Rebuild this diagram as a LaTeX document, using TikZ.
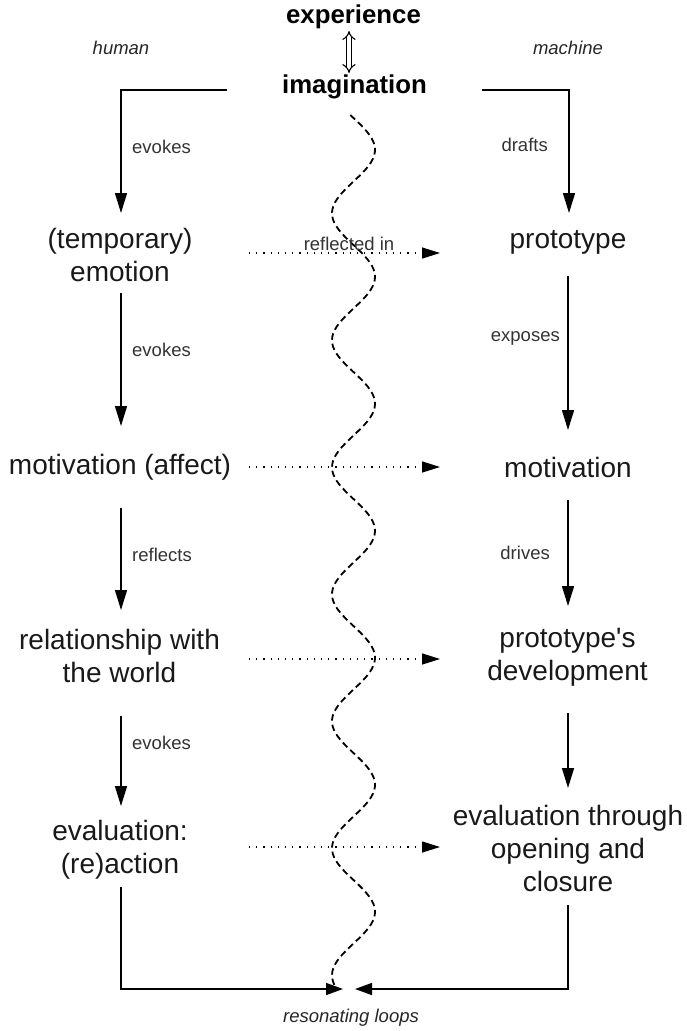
\documentclass[tikz,border=0pt]{standalone}
\usepackage{fontspec}
\setmainfont{Liberation Sans}
\usetikzlibrary{arrows.meta}
\begin{document}
\begin{tikzpicture}[x=1pt,y=-1pt,
  mainnode/.style={font=\fontsize{28}{33}\selectfont, align=center, inner sep=0pt, text=black!90},
  topnode/.style={font=\fontsize{25.8}{30}\selectfont\bfseries, inner sep=0pt},
  lab/.style={font=\fontsize{18.5}{22}\selectfont, inner sep=0pt, text=black!80},
  side/.style={font=\fontsize{18.5}{22}\selectfont\itshape, inner sep=0pt, text=black!85},
  arr/.style={line width=1.5pt, -{Triangle[length=20pt,width=12pt]}},
  botarr/.style={line width=1.5pt, -{Triangle[length=17pt,width=12pt]}},
  dotarr/.style={line width=1.2pt, dash pattern=on 1.2pt off 6pt, -{Triangle[length=18pt,width=11pt]}},
  wave/.style={line width=1.8pt, dash pattern=on 6.5pt off 4pt},
  dblarr/.style={double distance=3.5pt, line width=1.1pt, {Implies[scale=1.4]}-{Implies[scale=1.4]}},
]
\useasboundingbox (0,0) rectangle (686,1031);

% top
\node[topnode] (exp) at (353.5,17) {experience};
\node[topnode] (imag) at (354.5,87) {imagination};
\coordinate (da1) at (349,31);
\coordinate (da2) at (349,73);
\draw[dblarr] (da1) -- (da2);

\node[side] (human) at (121,48) {human};
\node[side] (machine) at (568,48) {machine};

% left column nodes
\node[mainnode] (tempemo) at (120,255) {(temporary)\\emotion};
\node[mainnode] (motaff) at (120,467) {motivation (affect)};
\node[mainnode] (relat) at (119.5,656) {relationship with\\the world};
\node[mainnode] (evalh) at (120,850) {evaluation:\\(re)action};

% right column nodes
\node[mainnode] (proto) at (568,242) {prototype};
\node[mainnode] (motm) at (568,467) {motivation};
\node[mainnode] (protodev) at (567.5,657) {prototype\textquotesingle s\\development};
\node[mainnode] (evalm) at (568,848) {evaluation through\\opening and\\closure};

% wave
\draw[wave] plot[domain=115:985, samples=260, smooth] ({353.5+21.5*sin(2.8346*(\x-118))}, {\x});

% top connectors
\coordinate (il) at (227,90);
\coordinate (ilc) at (121,90);
\coordinate (ile) at (121,213);
\draw[arr] (il) -- (ilc) -- (ile);
\coordinate (ir) at (482,90);
\coordinate (irc) at (569,90);
\coordinate (ire) at (569,213);
\draw[arr] (ir) -- (irc) -- (ire);
\node[lab, anchor=west] (lev1) at (132,147) {evokes};
\node[lab, anchor=east] (ldr) at (548,145) {drafts};

% left column arrows
\coordinate (l1s) at (121,293); \coordinate (l1e) at (121,426);
\draw[arr] (l1s) -- (l1e);
\node[lab, anchor=west] (lev2) at (132,350) {evokes};
\coordinate (l2s) at (121,508); \coordinate (l2e) at (121,610);
\draw[arr] (l2s) -- (l2e);
\node[lab, anchor=west] (lref) at (132,555) {reflects};
\coordinate (l3s) at (121,716); \coordinate (l3e) at (121,806);
\draw[arr] (l3s) -- (l3e);
\node[lab, anchor=west] (lev3) at (132,743) {evokes};

% right column arrows
\coordinate (r1s) at (568,276); \coordinate (r1e) at (568,430);
\draw[arr] (r1s) -- (r1e);
\node[lab, anchor=east] (lexp) at (560,338) {exposes};
\coordinate (r2s) at (568,500); \coordinate (r2e) at (568,606);
\draw[arr] (r2s) -- (r2e);
\node[lab, anchor=east] (ldrv) at (550,553) {drives};
\coordinate (r3s) at (568,713); \coordinate (r3e) at (568,788);
\draw[arr] (r3s) -- (r3e);

% dotted connectors
\coordinate (d1s) at (249,253); \coordinate (d1e) at (440,253);
\draw[dotarr] (d1s) -- (d1e);
\node[lab] (lrefin) at (349,244) {reflected in};
\coordinate (d2s) at (249,467); \coordinate (d2e) at (440,467);
\draw[dotarr] (d2s) -- (d2e);
\coordinate (d3s) at (249,659); \coordinate (d3e) at (440,659);
\draw[dotarr] (d3s) -- (d3e);
\coordinate (d4s) at (249,847); \coordinate (d4e) at (440,847);
\draw[dotarr] (d4s) -- (d4e);

% bottom loops
\coordinate (bl1) at (121,887); \coordinate (blc) at (121,989); \coordinate (ble) at (343,989);
\draw[botarr] (bl1) -- (blc) -- (ble);
\coordinate (br1) at (568,905); \coordinate (brc) at (568,989); \coordinate (bre) at (355,989);
\draw[botarr] (br1) -- (brc) -- (bre);
\node[side] (loops) at (351,1018) {resonating loops};
\end{tikzpicture}
\end{document}
